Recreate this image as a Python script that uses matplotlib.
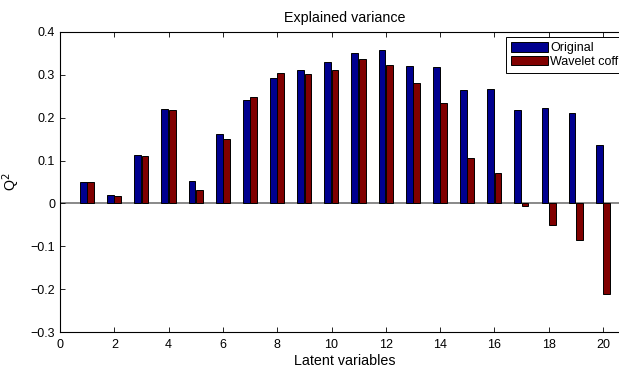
import matplotlib.pyplot as plt
import numpy as np

# data
latent = np.arange(1, 21)
original = [0.050, 0.020, 0.112, 0.220, 0.053, 0.161, 0.241, 0.292, 0.310, 0.330,
            0.351, 0.358, 0.319, 0.318, 0.265, 0.266, 0.218, 0.223, 0.211, 0.137]
wavelet = [0.050, 0.018, 0.111, 0.218, 0.032, 0.149, 0.247, 0.304, 0.302, 0.311,
           0.336, 0.323, 0.280, 0.233, 0.106, 0.071, -0.007, -0.050, -0.086, -0.212]
xticks = np.arange(0, 21, 2)
yticks = np.round(np.arange(-0.3, 0.41, 0.1), 1)
ytick_labels = ['\u22120.3', '\u22120.2', '\u22120.1', '0', '0.1', '0.2', '0.3', '0.4']

plt.rcParams['font.family'] = ['Liberation Sans', 'DejaVu Sans']
plt.rcParams['font.size'] = 9

fig = plt.figure(figsize=(6.19, 3.67), dpi=100)
# axes runs a bit past the right edge, like the cropped original
ax = fig.add_axes([0.097, 0.0946, 0.921, 0.819])

w = 0.25
ax.axhline(0, color='#808080', linewidth=1.3, zorder=1)
ax.bar(latent - 0.14, original, width=w, color='#00008F', edgecolor='black',
       linewidth=0.7, label='Original', zorder=2)
ax.bar(latent + 0.13, wavelet, width=w, color='#800000', edgecolor='black',
       linewidth=0.7, label='Wavelet coff', zorder=2)

ax.set_xlim(0, 21)
ax.set_ylim(-0.3, 0.4)
ax.set_xticks(xticks)
ax.set_yticks(yticks)
ax.set_yticklabels(ytick_labels)
ax.tick_params(direction='in', top=True, right=True, length=3.6, width=0.6, labelsize=9)
ax.tick_params(axis='x', pad=5)
for s in ax.spines.values():
    s.set_linewidth(0.8)

ax.set_title('Explained variance', fontsize=10.3, pad=7)
ax.set_xlabel('Latent variables', fontsize=10.3, labelpad=2)
ax.set_ylabel('Q$^2$', fontsize=10.3)
ax.yaxis.set_label_coords(-0.066, 0.5)

leg = ax.legend(loc='upper left', bbox_to_anchor=(0.817, 0.9), bbox_transform=fig.transFigure,
                handlelength=2.9, handleheight=0.75, fontsize=9,
                fancybox=False, edgecolor='black', framealpha=1,
                borderaxespad=0, borderpad=0.45, labelspacing=0.1, handletextpad=0.22)
leg.get_frame().set_linewidth(0.7)

plt.savefig('out.png', dpi=100)
plt.close()
